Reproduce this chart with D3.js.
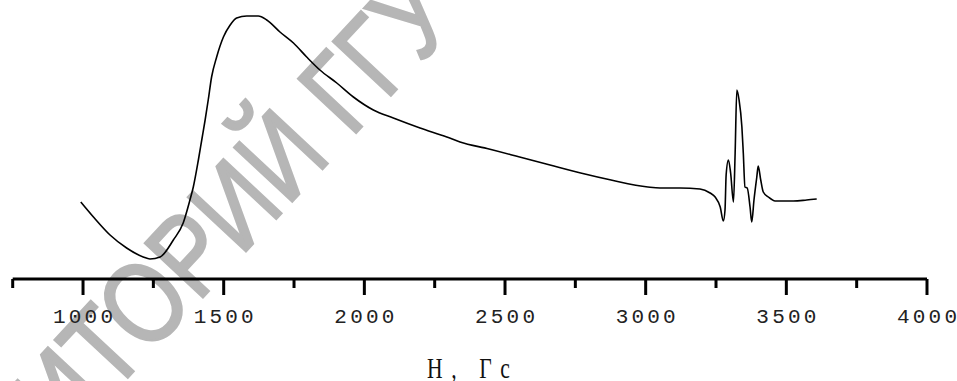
<!DOCTYPE html>
<html>
<head>
<meta charset="UTF-8" />
<title>EPR spectrum</title>
<script src="https://d3js.org/d3.v7.min.js"></script>
<style>
  body { margin: 0; background: #fff; }
  .tick-label { font: 21px "Liberation Mono", monospace; fill: #222; }
  .axis-title { font: 30px "Liberation Serif", serif; fill: #111; }
  .watermark { font: 115px "Liberation Sans", Arial, sans-serif; fill: #b6b6b6; stroke: #b6b6b6; stroke-width: 2.5; }
</style>
</head>
<body>
<div id="plot"></div>
<script>
// field, Gs
var field = [992, 1037, 1096, 1155, 1214, 1238, 1274, 1321, 1356, 1380, 1392, 1410, 1422, 1434,
  1445, 1457, 1475, 1499, 1523, 1546, 1582, 1623, 1653, 1700, 1748, 1795, 1842, 1902, 1961,
  2032, 2103, 2198, 2293, 2340, 2443, 2552, 2660, 2769, 2877, 3008, 3051, 3122, 3193, 3229,
  3247, 3265, 3276, 3282, 3286, 3294, 3302, 3312, 3318, 3324, 3332, 3342, 3347, 3353, 3361,
  3371, 3377, 3385, 3395, 3400, 3409, 3418, 3436, 3460, 3525, 3572, 3608];
// signal, arbitrary units
var signal = [77, 62, 44, 31, 22, 20, 22, 39, 56, 79, 92, 119, 139, 159,
  179, 202, 222, 242, 254, 261, 263, 263, 259, 247, 236, 222, 209, 196, 182,
  169, 161, 151, 142, 137, 130, 122, 114, 106, 99, 92, 91, 91, 90, 86,
  82, 72, 58, 69, 104, 119, 106, 77, 126, 189, 179, 152, 126, 92, 91,
  72, 57, 79, 102, 113, 99, 87, 82, 78, 78, 79, 80];
var majorTicks = [1000, 1500, 2000, 2500, 3000, 3500, 4000];
var minorTicks = [750, 1250, 1750, 2250, 2750, 3250, 3750];
var xTitle = "Н, Гс";
var watermarkText = "РЕПОЗИТОРИЙ ГГУ";

var W = 957, H = 381;
var svg = d3.select("#plot").append("svg")
  .attr("width", W).attr("height", H);

var x = d3.scaleLinear().domain([750, 4000]).range([12.7, 927]);
var y = d3.scaleLinear().domain([0, 279]).range([279, 0]);

// watermark under everything (narrowed glyphs)
svg.append("text")
  .attr("class", "watermark")
  .attr("transform", "translate(-156,682) rotate(-47) scale(0.82,1)")
  .text(watermarkText);

// axis
var axisY = y(0);
svg.append("line")
  .attr("x1", x(750)).attr("x2", x(4000))
  .attr("y1", axisY).attr("y2", axisY)
  .attr("stroke", "#000").attr("stroke-width", 3);

svg.selectAll(".major").data(majorTicks).enter().append("line")
  .attr("class", "major")
  .attr("x1", function(d) { return x(d); }).attr("x2", function(d) { return x(d); })
  .attr("y1", axisY).attr("y2", axisY + 16)
  .attr("stroke", "#000").attr("stroke-width", 3);

svg.selectAll(".minor").data(minorTicks).enter().append("line")
  .attr("class", "minor")
  .attr("x1", function(d) { return x(d); }).attr("x2", function(d) { return x(d); })
  .attr("y1", axisY).attr("y2", axisY + 9)
  .attr("stroke", "#000").attr("stroke-width", 3);

svg.selectAll(".tick-label").data(majorTicks).enter().append("text")
  .attr("class", "tick-label")
  .attr("x", function(d) { return x(d); })
  .attr("y", 323)
  .attr("text-anchor", "middle")
  .attr("textLength", 60)
  .attr("lengthAdjust", "spacing")
  .text(function(d) { return d; });

svg.append("text")
  .attr("class", "axis-title")
  .attr("transform", "translate(427,378) scale(0.72,1)")
  .attr("textLength", 115)
  .attr("lengthAdjust", "spacing")
  .text(xTitle);

// spectrum
var pts = field.map(function(f, i) { return [f, signal[i]]; });
var line = d3.line()
  .x(function(d) { return x(d[0]); })
  .y(function(d) { return y(d[1]); })
  .curve(d3.curveMonotoneX);

svg.append("path")
  .datum(pts)
  .attr("d", line)
  .attr("fill", "none")
  .attr("stroke", "#000")
  .attr("stroke-width", 1.6);
</script>
</body>
</html>
